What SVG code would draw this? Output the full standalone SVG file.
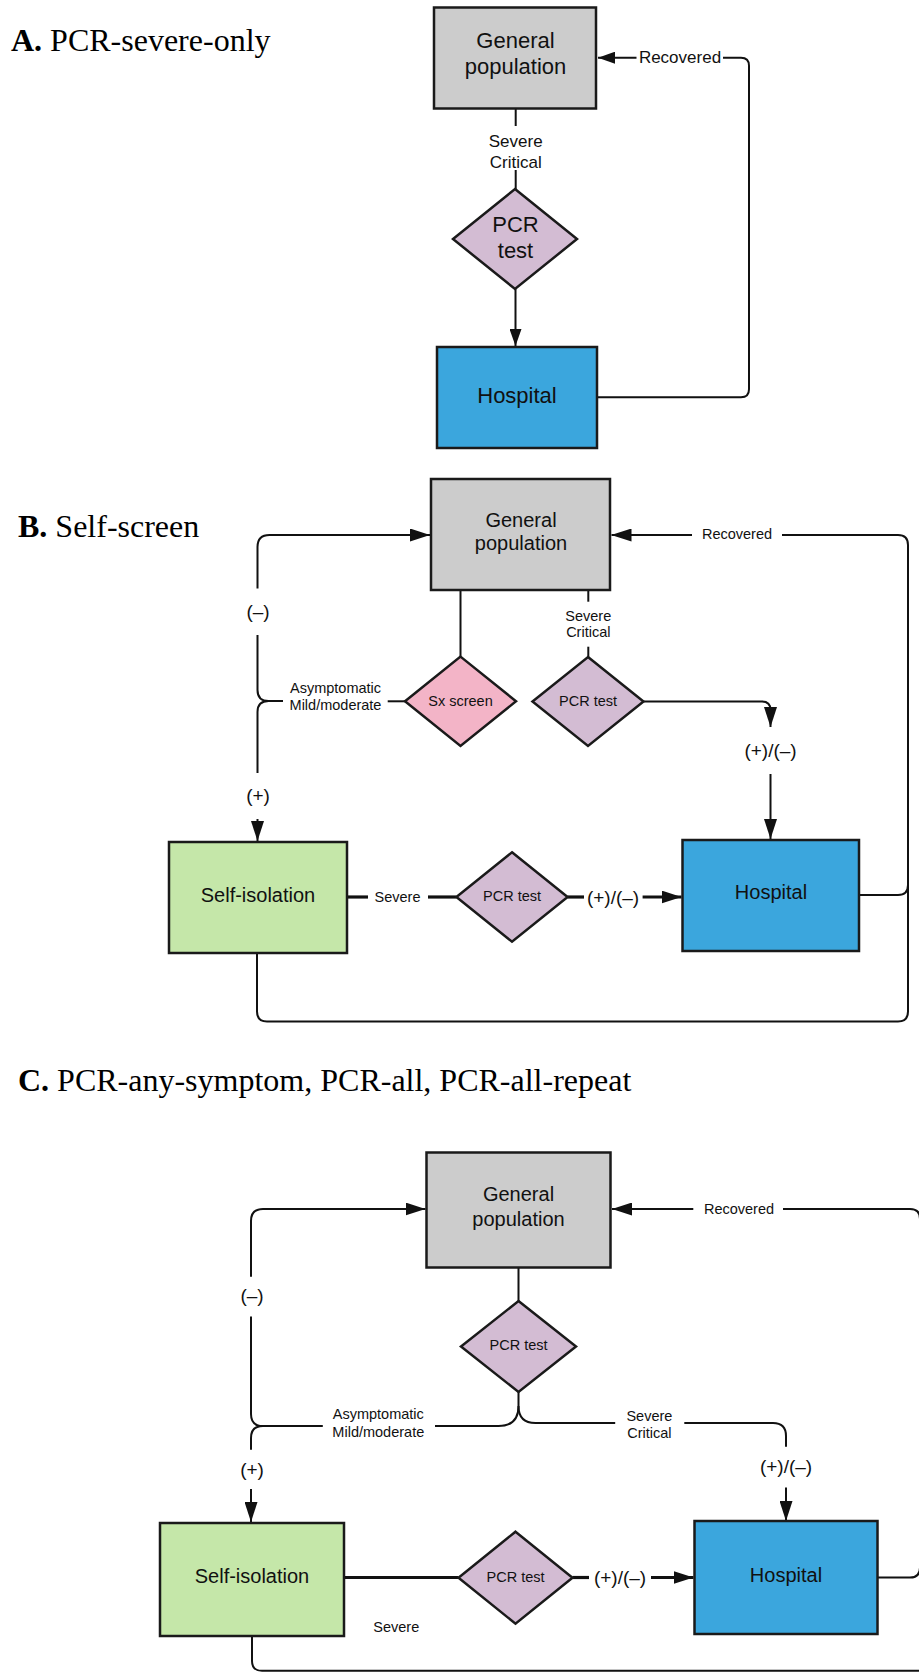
<svg xmlns="http://www.w3.org/2000/svg" width="919" height="1674" viewBox="0 0 919 1674">
<defs>
<style>
.title{font-family:"Liberation Serif","Times New Roman",serif;font-size:32px;fill:#000}
.title .b{font-weight:bold}
.box{stroke:#1a1a1a;stroke-width:2.5}
.gp{fill:#cccccc}
.hos{fill:#3ba6dd}
.iso{fill:#c5e7a9}
.pcr{fill:#d3bcd3}
.sx{fill:#f3b4c7}
.nt{font-family:"Liberation Sans",Arial,sans-serif;font-size:20px;fill:#111;text-anchor:middle}
.nt22{font-size:22px}
.lbl{font-family:"Liberation Sans",Arial,sans-serif;font-size:14.5px;fill:#111;text-anchor:middle}
.lbl17{font-size:17px}
.pm{font-family:"Liberation Sans",Arial,sans-serif;font-size:19px;fill:#111;text-anchor:middle}
.ln{fill:none;stroke:#111;stroke-width:2}
.thick{stroke-width:3.2}
.aA{marker-end:url(#arrA)}
.aB{marker-end:url(#arrB)}
</style>
<marker id="arrA" viewBox="0 0 17 12" refX="17" refY="6" markerWidth="17" markerHeight="12" markerUnits="userSpaceOnUse" orient="auto"><path d="M0,0 L17,6 L0,12 z" fill="#111"/></marker>
<marker id="arrB" viewBox="0 0 20 13" refX="20" refY="6.5" markerWidth="20" markerHeight="13" markerUnits="userSpaceOnUse" orient="auto"><path d="M0,0 L20,6.5 L0,13 z" fill="#111"/></marker>
</defs>
<rect width="919" height="1674" fill="#fff"/>

<!-- Titles -->
<text class="title" x="11" y="51"><tspan class="b">A.</tspan> PCR-severe-only</text>
<text class="title" x="18" y="537"><tspan class="b">B.</tspan> Self-screen</text>
<text class="title" x="18" y="1091"><tspan class="b">C.</tspan> PCR-any-symptom, PCR-all, PCR-all-repeat</text>

<!-- Connectors -->
<g id="connectors">
  <!-- A -->
  <path class="ln" d="M515.7,109 V126"/>
  <path class="ln" d="M515.7,170 V189"/>
  <path class="ln aA" d="M515.5,289 V346"/>
  <path class="ln" d="M597,397.3 H741 Q749,397.3 749,389.3 V65.7 Q749,57.7 741,57.7 H723"/>
  <path class="ln aA" d="M636.5,57.7 H598"/>
  <text class="lbl lbl17" x="515.7" y="146.7">Severe</text>
  <text class="lbl lbl17" x="515.7" y="167.7">Critical</text>
  <text class="lbl lbl17" x="680" y="62.5">Recovered</text>

  <!-- B -->
  <path class="ln aB" d="M257.5,588.6 V547 Q257.5,535 269.5,535 H430"/>
  <path class="ln" d="M257.5,635 V690 Q257.5,701 268.5,701 H283"/>
  <path class="ln" d="M268.5,701 Q257.5,701 257.5,712 V773"/>
  <path class="ln aB" d="M257.5,819 V841"/>
  <text class="pm" x="258" y="618">(–)</text>
  <text class="pm" x="258" y="802">(+)</text>
  <text class="lbl" x="335.5" y="692.7">Asymptomatic</text>
  <text class="lbl" x="335.5" y="710">Mild/moderate</text>
  <path class="ln" d="M387.7,701.3 H405"/>
  <path class="ln" d="M460.5,590 V656.6"/>
  <path class="ln" d="M588.3,590 V601.7"/>
  <path class="ln" d="M588.3,646.7 V657"/>
  <text class="lbl" x="588.3" y="620.7">Severe</text>
  <text class="lbl" x="588.3" y="637.3">Critical</text>
  <path class="ln aB" d="M643.5,701.5 H762 Q770.5,701.5 770.5,710 V727"/>
  <text class="pm" x="770.5" y="756.5">(+)/(–)</text>
  <path class="ln aB" d="M770.5,774 V839"/>
  <path class="ln thick" d="M347,897 H368"/>
  <text class="lbl" x="397.5" y="902">Severe</text>
  <path class="ln thick" d="M428,897 H456.4"/>
  <path class="ln thick" d="M567.6,897 H584"/>
  <text class="pm" x="613" y="903.5">(+)/(–)</text>
  <path class="ln thick aB" d="M642.6,897 H681.5"/>
  <path class="ln" d="M859,895 H898 Q908,895 908,885 V545 Q908,535 898,535 H782"/>
  <text class="lbl" x="737" y="538.5">Recovered</text>
  <path class="ln aB" d="M692,535 H611.5"/>
  <path class="ln" d="M257,953 V1011.5 Q257,1021.5 267,1021.5 H898 Q908,1021.5 908,1011.5 V796"/>

  <!-- C -->
  <path class="ln aB" d="M251,1276.8 V1221 Q251,1209 263,1209 H425.5"/>
  <text class="pm" x="252" y="1301.5">(–)</text>
  <path class="ln" d="M251,1316.5 V1414 Q251,1426 263,1426 H322.8"/>
  <path class="ln" d="M263,1426 Q251,1426 251,1438 V1449.7"/>
  <text class="pm" x="252" y="1475.5">(+)</text>
  <path class="ln aB" d="M251,1489 V1522"/>
  <text class="lbl" x="378.3" y="1419.3">Asymptomatic</text>
  <text class="lbl" x="378.3" y="1436.7">Mild/moderate</text>
  <path class="ln" d="M518.5,1267.5 V1301"/>
  <path class="ln" d="M518.5,1392 V1406 Q518.5,1426 498.5,1426 H435"/>
  <path class="ln" d="M518.5,1406 Q518.5,1423 535.5,1423 H615.2"/>
  <text class="lbl" x="649.4" y="1420.7">Severe</text>
  <text class="lbl" x="649.4" y="1438.3">Critical</text>
  <path class="ln" d="M684.3,1423 H773 Q786,1423 786,1436 V1446.7"/>
  <text class="pm" x="786" y="1472.5">(+)/(–)</text>
  <path class="ln aB" d="M786,1487.4 V1521"/>
  <path class="ln thick" d="M344,1577.5 H458.5"/>
  <text class="lbl" x="396.3" y="1632">Severe</text>
  <path class="ln thick" d="M572.5,1577.5 H589"/>
  <text class="pm" x="620" y="1584">(+)/(–)</text>
  <path class="ln thick aB" d="M651,1577.5 H693.5"/>
  <path class="ln" d="M877.5,1577.5 H910 Q920,1577.5 920,1567.5 V1219 Q920,1209 910,1209 H783"/>
  <text class="lbl" x="739" y="1214">Recovered</text>
  <path class="ln aB" d="M693.3,1209 H612"/>
  <path class="ln" d="M252,1636 V1661 Q252,1670.8 262,1670.8 H930"/>
</g>

<!-- Nodes A -->
<g id="A-general-population">
  <rect class="box gp" x="434" y="7.5" width="162" height="101"/>
  <text class="nt nt22" x="515.5" y="47.7">General</text>
  <text class="nt nt22" x="515.5" y="74">population</text>
</g>
<g id="A-pcr-test">
  <polygon class="box pcr" points="515,189 577,239 515,289 453,239" stroke-width="2"/>
  <text class="nt nt22" x="515.5" y="231.7">PCR</text>
  <text class="nt nt22" x="515.5" y="257.7">test</text>
</g>
<g id="A-hospital">
  <rect class="box hos" x="437" y="347" width="160" height="101"/>
  <text class="nt nt22" x="517" y="403">Hospital</text>
</g>

<!-- Nodes B -->
<g id="B-general-population">
  <rect class="box gp" x="431" y="479" width="179" height="111"/>
  <text class="nt" x="521" y="526.5">General</text>
  <text class="nt" x="521" y="550">population</text>
</g>
<g id="B-sx-screen">
  <polygon class="box sx" points="460.5,656.6 516,701.3 460.5,746 405,701.3" stroke-width="2"/>
  <text class="lbl" x="460.5" y="705.5">Sx screen</text>
</g>
<g id="B-pcr-test-1">
  <polygon class="box pcr" points="588,657 643.5,701.5 588,746 532.5,701.5" stroke-width="2"/>
  <text class="lbl" x="588" y="705.5">PCR test</text>
</g>
<g id="B-self-isolation">
  <rect class="box iso" x="169" y="842" width="178" height="111"/>
  <text class="nt" x="258" y="901.5">Self-isolation</text>
</g>
<g id="B-pcr-test-2">
  <polygon class="box pcr" points="512,852.3 567.6,897 512,941.7 456.4,897" stroke-width="2"/>
  <text class="lbl" x="512" y="901">PCR test</text>
</g>
<g id="B-hospital">
  <rect class="box hos" x="682.5" y="840" width="176.5" height="111"/>
  <text class="nt" x="771" y="898.5">Hospital</text>
</g>

<!-- Nodes C -->
<g id="C-general-population">
  <rect class="box gp" x="426.5" y="1152.5" width="184" height="115"/>
  <text class="nt" x="518.5" y="1201">General</text>
  <text class="nt" x="518.5" y="1225.5">population</text>
</g>
<g id="C-pcr-test-1">
  <polygon class="box pcr" points="518.5,1301 576,1346.5 518.5,1392 461,1346.5" stroke-width="2"/>
  <text class="lbl" x="518.5" y="1349.5">PCR test</text>
</g>
<g id="C-self-isolation">
  <rect class="box iso" x="160" y="1523" width="184" height="113"/>
  <text class="nt" x="252" y="1583">Self-isolation</text>
</g>
<g id="C-pcr-test-2">
  <polygon class="box pcr" points="515.5,1531.7 572.5,1577.7 515.5,1623.7 458.5,1577.7" stroke-width="2"/>
  <text class="lbl" x="515.5" y="1581.5">PCR test</text>
</g>
<g id="C-hospital">
  <rect class="box hos" x="694.5" y="1521" width="183" height="113"/>
  <text class="nt" x="786" y="1582">Hospital</text>
</g>
</svg>
